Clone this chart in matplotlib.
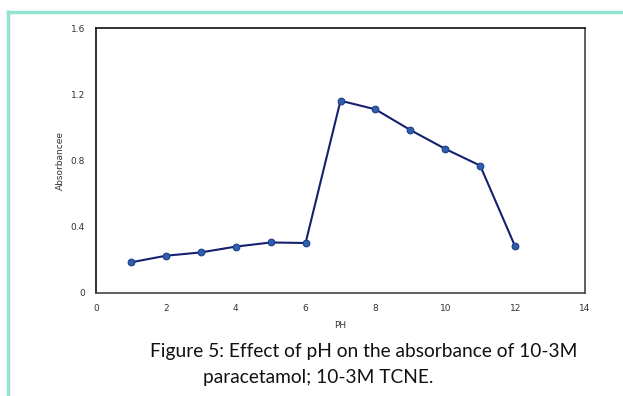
import matplotlib
matplotlib.use("Agg")
import matplotlib.pyplot as plt
from matplotlib.lines import Line2D

# pH vs absorbance
ph = [1, 2, 3, 4, 5, 6, 7, 8, 9, 10, 11, 12]
absorbance = [0.185, 0.225, 0.245, 0.28, 0.305, 0.302, 1.161, 1.109, 0.984, 0.87, 0.769, 0.281]
xticks = [0, 2, 4, 6, 8, 10, 12, 14]
yticks = [0, 0.4, 0.8, 1.2, 1.6]
ytick_labels = ["0", "0.4", "0.8", "1.2", "1.6"]

W, H = 623, 396
fig = plt.figure(figsize=(W / 100, H / 100), dpi=100)
ax = fig.add_axes([96 / W, 1 - 293 / H, (585 - 96) / W, (293 - 28) / H])

ax.plot(ph, absorbance, color="#16206e", lw=1.5, marker="o", ms=4.8,
        mfc="#2f5fae", mec="#1d3f8a", mew=0.8, zorder=3)

ax.set_xlim(0, 14)
ax.set_ylim(0, 1.6)
ax.set_xticks(xticks)
ax.set_yticks(yticks)
ax.set_yticklabels(ytick_labels)
ax.tick_params(length=0, labelsize=6.5, colors="#333333", pad=8)
for side in ["top", "left"]:
    ax.spines[side].set_color("#111111")
for side in ["right", "bottom"]:
    ax.spines[side].set_color("#444444")
for s in ax.spines.values():
    s.set_linewidth(1.2)

ax.set_xlabel("PH", fontsize=6.5, color="#333333", labelpad=6)
ax.set_ylabel("Absorbancee", fontsize=6.5, color="#333333", labelpad=4)

# teal frame on top and left
fig.add_artist(Line2D([8 / W, 1], [1 - 12 / H, 1 - 12 / H], color="#93e4d1", lw=2.5))
fig.add_artist(Line2D([8 / W, 8 / W], [1 - 12 / H, 0], color="#93e4d1", lw=2.5))

cap = dict(fontsize=13.8, family=["Lato", "DejaVu Sans"], color="#111111", va="center")
fig.text(150 / W, 1 - 352 / H, "Figure 5: Effect of pH on the absorbance of 10-3M", **cap)
fig.text(203 / W, 1 - 378 / H, "paracetamol; 10-3M TCNE.", **cap)

fig.savefig("out.png", dpi=100)
